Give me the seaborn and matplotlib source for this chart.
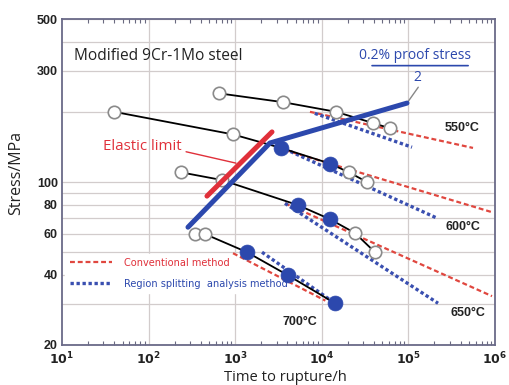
import numpy as np
import pandas as pd
import matplotlib
matplotlib.use("Agg")
import matplotlib.pyplot as plt
import seaborn as sns
from matplotlib.font_manager import FontProperties

# ---------------- data ----------------
t550 = [650, 3560, 14600, 39000, 61000]
s550 = [240, 220, 200, 179, 170]
f550 = [0, 0, 0, 0, 0]

t600 = [40, 944, 3380, 12400, 20600, 33300]
s600 = [200, 160, 140, 120, 110, 100]
f600 = [0, 0, 1, 1, 0, 0]

t650 = [237, 700, 5310, 12400, 24200, 41100]
s650 = [110, 102, 79.6, 69.3, 60.4, 50]
f650 = [0, 0, 1, 1, 0, 0]

t700 = [344, 448, 1370, 4070, 14200]
s700 = [59.8, 59.8, 50, 39.8, 30.2]
f700 = [0, 0, 1, 1, 1]

# conventional method (red dashed)
conv_t = {"550": [7300, 557000], "600": [3760, 950000], "650": [3760, 923000], "700": [944, 11000]}
conv_s = {"550": [200, 140], "600": [137, 74], "650": [81, 32.4], "700": [49.5, 31]}
# region splitting analysis method (blue dotted)
rsa_t = {"550": [8300, 110000], "600": [3760, 214000], "650": [3760, 220000], "700": [2040, 14200]}
rsa_s = {"550": [197, 141], "600": [138.5, 70], "650": [81, 30.2], "700": [50, 30.2]}

elastic_t = [472, 2660]
elastic_s = [87, 164]
proof_t = [285, 2520, 96400]
proof_s = [64, 147, 218]

temp_labels = ["550°C", "600°C", "650°C", "700°C"]
ytick_vals = [20, 40, 60, 80, 100, 300, 500]
ygrid_vals = [20, 30, 40, 50, 60, 70, 80, 90, 100, 200, 300, 400, 500]
xtick_vals = [1e1, 1e2, 1e3, 1e4, 1e5, 1e6]
xtick_labels = [r"$\mathbf{10^{1}}$", r"$\mathbf{10^{2}}$", r"$\mathbf{10^{3}}$",
                r"$\mathbf{10^{4}}$", r"$\mathbf{10^{5}}$", r"$\mathbf{10^{6}}$"]

# ---------------- style ----------------
sns.set_theme(style="white")
plt.rcParams['font.family'] = ['Open Sans', 'DejaVu Sans']

RED = "#e0303a"
BLUE = "#2c48ad"
RED_D = "#e0473f"
BLUE_D = "#3a4fb0"
GRID = "#d2cccc"

fig = plt.figure(figsize=(5.09, 3.85), dpi=100)
ax = fig.add_axes([0.1218, 0.1039, 0.8507, 0.8467])
ax.set_xscale("log")
ax.set_yscale("log")
ax.set_xlim(10, 1e6)
ax.set_ylim(20, 500)

# grid
for g in ygrid_vals:
    ax.axhline(g, color=GRID, lw=0.9, zorder=0)
for g in xtick_vals[1:-1]:
    ax.axvline(g, color=GRID, lw=0.9, zorder=0)

# conventional / region splitting lines
first = True
for k in ["550", "600", "650", "700"]:
    sns.lineplot(x=conv_t[k], y=conv_s[k], ax=ax, color=RED_D, lw=1.6,
                 estimator=None, sort=False, zorder=2,
                 label="Conventional method" if first else None)
    ax.lines[-1].set_linestyle((0, (2.2, 1.3)))
    sns.lineplot(x=rsa_t[k], y=rsa_s[k], ax=ax, color=BLUE_D, lw=2.4,
                 estimator=None, sort=False, zorder=2,
                 label="Region splitting  analysis method" if first else None)
    ax.lines[-1].set_linestyle((0, (1.0, 0.8)))
    first = False

# black data lines with markers
for t, s, f in [(t550, s550, f550), (t600, s600, f600), (t650, s650, f650), (t700, s700, f700)]:
    sns.lineplot(x=t, y=s, ax=ax, color="black", lw=1.3, estimator=None, sort=False, zorder=3)
    df = pd.DataFrame({"t": t, "s": s, "f": f})
    op = df[df.f == 0]
    fi = df[df.f == 1]
    sns.scatterplot(data=op, x="t", y="s", ax=ax, s=80, facecolor="white",
                    edgecolor="#8a8a8a", linewidth=1.2, zorder=4, legend=False)
    sns.scatterplot(data=fi, x="t", y="s", ax=ax, s=115, color=BLUE,
                    edgecolor=BLUE, linewidth=0.5, zorder=4, legend=False)

# elastic limit & proof stress
sns.lineplot(x=elastic_t, y=elastic_s, ax=ax, color=RED, lw=3.6, estimator=None,
             sort=False, zorder=5)
ax.lines[-1].set_solid_capstyle("round")
sns.lineplot(x=proof_t, y=proof_s, ax=ax, color=BLUE, lw=3.6, estimator=None,
             sort=False, zorder=5)
ax.lines[-1].set_solid_capstyle("round")

# legend
legprop = FontProperties(family=["DejaVu Sans"], stretch="condensed", size=7.8)
leg = ax.legend(loc="upper left", bbox_to_anchor=(0.0, 0.29), frameon=True,
                handlelength=3.9, handletextpad=1.1,
                borderpad=0.4, labelspacing=1.0, borderaxespad=0.3,
                prop=legprop)
leg.get_frame().set_facecolor("white")
leg.get_frame().set_edgecolor("white")
leg.get_frame().set_alpha(1)
leg.get_texts()[0].set_color(RED)
leg.get_texts()[1].set_color(BLUE)
leg.set_zorder(1)

# annotations
ax.text(0.028, 0.886, "Modified 9Cr-1Mo steel", transform=ax.transAxes,
        fontsize=11.2, color="#222222", va="center", ha="left")
ax.annotate("Elastic limit", xy=(1020, 120.5), xytext=(84, 142),
            fontsize=10.8, color=RED, ha="center", va="center",
            arrowprops=dict(arrowstyle="-", color=RED, lw=1.0,
                            shrinkA=0, shrinkB=0, relpos=(1.06, 0.15)), zorder=6)
ax.text(119000, 350, "0.2% proof stress", fontsize=10, color=BLUE,
        ha="center", va="center", zorder=6)
ax.annotate("", xy=(0.716, 0.857), xytext=(0.938, 0.857), xycoords="axes fraction",
            textcoords="axes fraction",
            arrowprops=dict(arrowstyle="-", color=BLUE, lw=1.2, shrinkA=0, shrinkB=0))
ax.text(0.82, 0.822, "2", transform=ax.transAxes, fontsize=10, color=BLUE,
        ha="center", va="center")
ax.annotate("", xy=(96400, 218), xytext=(130000, 255),
            arrowprops=dict(arrowstyle="-", color="#888888", lw=1.0, shrinkA=0, shrinkB=0))

# temperature labels
bold_font = ["Liberation Sans", "DejaVu Sans"]
temp_pos = [(0.924, 0.666), (0.927, 0.362), (0.938, 0.098), (0.55, 0.0706)]
for lab, (px, py) in zip(temp_labels, temp_pos):
    ax.text(px, py, lab, transform=ax.transAxes, fontsize=9,
            fontweight="bold", color="#222222", ha="center", va="center", family=bold_font)

# ticks
ax.set_yticks(ytick_vals)
ax.set_yticklabels([str(v) for v in ytick_vals], fontweight="bold", fontsize=9,
                   family=bold_font, color="#222222")
ax.yaxis.set_minor_locator(matplotlib.ticker.NullLocator())
ax.set_xticks(xtick_vals)
ax.set_xticklabels(xtick_labels, fontsize=9, color="#222222")
ax.xaxis.set_minor_locator(matplotlib.ticker.LogLocator(base=10, subs=np.arange(2, 10)))
ax.xaxis.set_minor_formatter(matplotlib.ticker.NullFormatter())
ax.tick_params(axis="x", which="both", direction="in", top=True, bottom=True,
               color="#6a6a80", pad=4)
ax.tick_params(axis="x", which="major", length=0)
ax.tick_params(axis="x", which="minor", length=3, width=0.8)
ax.tick_params(axis="y", which="both", length=0, pad=3)

for sp in ax.spines.values():
    sp.set_color("#6a6a88")
    sp.set_linewidth(1.3)

ax.set_xlabel("Time to rupture/h", fontsize=10.6, color="#222222")
ax.xaxis.set_label_coords(0.515, -0.078)
ax.set_ylabel("Stress/MPa", fontsize=11.5, color="#222222")
ax.yaxis.set_label_coords(-0.088, 0.528)

fig.savefig("out.png", dpi=100)
